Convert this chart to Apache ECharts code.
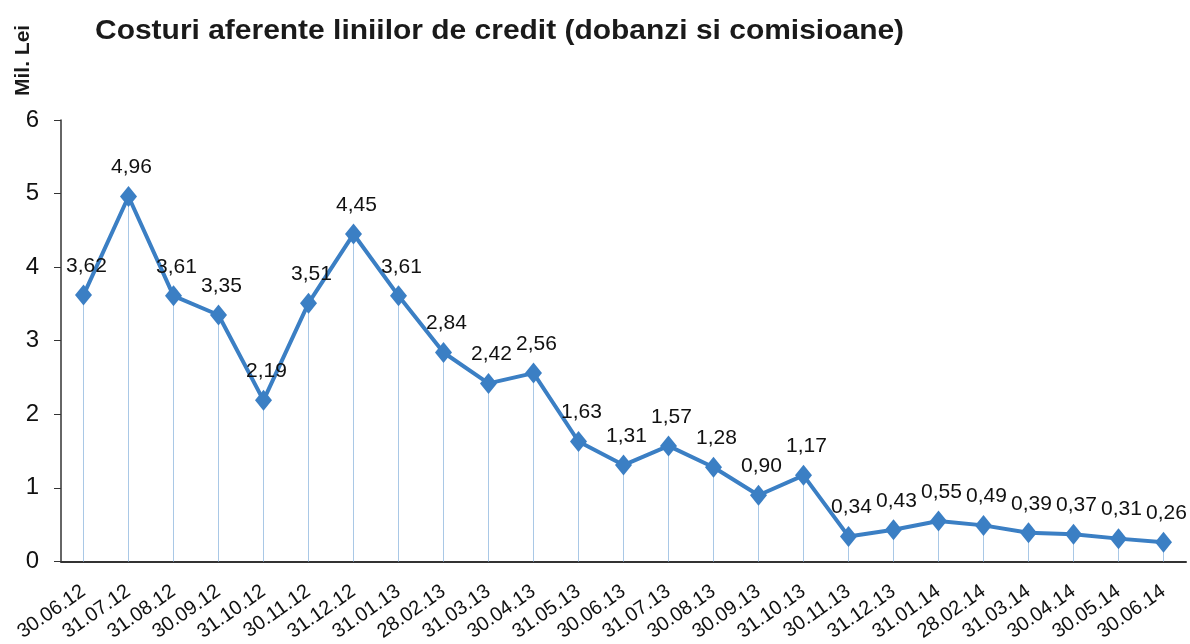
<!DOCTYPE html>
<html><head><meta charset="utf-8">
<script src="https://cdn.jsdelivr.net/npm/echarts@6/dist/echarts.min.js"></script>
<style>html,body{margin:0;padding:0;background:#fff}#c{width:1190px;height:644px}</style>
</head><body><div id="c"></div>
<script>
const titleText = 'Costuri aferente liniilor de credit (dobanzi si comisioane)';
const unitText = 'Mil. Lei';
const categories = ['30.06.12','31.07.12','31.08.12','30.09.12','31.10.12','30.11.12','31.12.12','31.01.13','28.02.13','31.03.13','30.04.13','31.05.13','30.06.13','31.07.13','30.08.13','30.09.13','31.10.13','30.11.13','31.12.13','31.01.14','28.02.14','31.03.14','30.04.14','30.05.14','30.06.14'];
const values = [3.62,4.96,3.61,3.35,2.19,3.51,4.45,3.61,2.84,2.42,2.56,1.63,1.31,1.57,1.28,0.90,1.17,0.34,0.43,0.55,0.49,0.39,0.37,0.31,0.26];
const yTicks = [0,1,2,3,4,5,6];

const chart = echarts.init(document.getElementById('c'), null, {renderer:'canvas'});
const font = '"Liberation Sans", Arial, sans-serif';
chart.setOption({
  backgroundColor:'#fff',
  animation:false,
  textStyle:{fontFamily:font},
  graphic:[
    {type:'text', left:95, top:17, scaleX:1.07, style:{text:titleText, font:'bold 28px '+font, fill:'#1a1a1a'}},
    {type:'text', x:13, y:96, rotation:Math.PI/2, style:{text:unitText, font:'bold 21px '+font, fill:'#1a1a1a'}}
  ],
  grid:{left:61, right:4, top:120, bottom:82, containLabel:false},
  xAxis:{
    type:'category', data:categories, boundaryGap:true,
    axisLine:{lineStyle:{color:'#333', width:2}},
    axisTick:{show:false},
    axisLabel:{rotate:35, fontSize:20, color:'#111', margin:28, interval:0, fontFamily:font}
  },
  yAxis:{
    type:'value', min:yTicks[0], max:yTicks[yTicks.length-1], interval:1,
    axisLine:{show:true, lineStyle:{color:'#333', width:1.5}},
    axisTick:{show:true, length:7, lineStyle:{color:'#333'}},
    splitLine:{show:false},
    axisLabel:{fontSize:24, color:'#111', margin:22, fontFamily:font}
  },
  series:[
    {type:'bar', data:values, barWidth:1, itemStyle:{color:'#a9c8e6'}, z:1, silent:true},
    {type:'line', data:values, z:3,
     lineStyle:{color:'#3b7fc4', width:4},
     symbol:'diamond', symbolSize:[17,21],
     itemStyle:{color:'#3b7fc4'},
     label:{show:true, position:'top', distance:8, offset:[3,0], fontSize:21, color:'#111', fontFamily:font,
       formatter:p=>p.value.toFixed(2).replace('.',',')}}
  ]
});
</script>
</body></html>
